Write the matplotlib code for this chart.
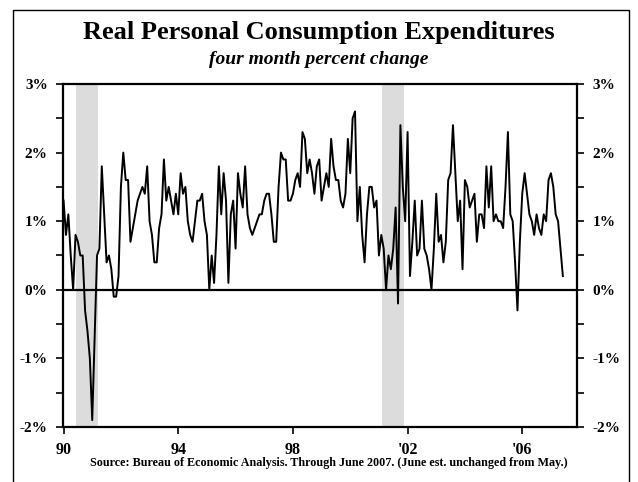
import matplotlib
matplotlib.use("Agg")
import matplotlib.pyplot as plt
import numpy as np
from matplotlib.patches import Rectangle

# Real PCE, four month percent change, monthly Jan 1990 - Jun 2007
start_year = 1990
pce_change = [
    1.3, 0.8, 1.1, 0.5, 0.0, 0.8, 0.7, 0.5, 0.5, -0.3, -0.6, -1.0,   # 1990
    -1.9, -0.7, 0.5, 0.6, 1.8, 1.1, 0.4, 0.5, 0.3, -0.1, -0.1, 0.2,  # 1991
    1.5, 2.0, 1.6, 1.6, 0.7, 0.9, 1.1, 1.3, 1.4, 1.5, 1.4, 1.8,      # 1992
    1.0, 0.8, 0.4, 0.4, 0.9, 1.1, 1.9, 1.3, 1.5, 1.3, 1.1, 1.4,      # 1993
    1.1, 1.7, 1.4, 1.5, 1.0, 0.8, 0.7, 1.0, 1.3, 1.3, 1.4, 1.0,      # 1994
    0.8, 0.0, 0.5, 0.1, 0.8, 1.8, 1.1, 1.7, 1.3, 0.1, 1.1, 1.3,      # 1995
    0.6, 1.7, 1.4, 1.2, 1.8, 1.1, 0.9, 0.8, 0.9, 1.0, 1.1, 1.1,      # 1996
    1.3, 1.4, 1.4, 1.1, 0.7, 0.7, 1.5, 2.0, 1.9, 1.9, 1.3, 1.3,      # 1997
    1.4, 1.6, 1.7, 1.5, 2.3, 2.2, 1.7, 1.9, 1.7, 1.4, 1.8, 1.9,      # 1998
    1.3, 1.5, 1.7, 1.5, 2.2, 1.8, 1.6, 1.6, 1.3, 1.2, 1.4, 2.2,      # 1999
    1.7, 2.5, 2.6, 1.0, 1.5, 0.8, 0.4, 1.1, 1.5, 1.5, 1.2, 1.3,      # 2000
    0.5, 0.8, 0.6, 0.0, 0.5, 0.3, 0.6, 1.2, -0.2, 2.4, 1.5, 1.0,     # 2001
    2.3, 0.2, 0.7, 1.3, 0.5, 0.6, 1.3, 0.6, 0.5, 0.3, 0.0, 0.6,      # 2002
    1.4, 0.7, 0.8, 0.4, 0.7, 1.6, 1.7, 2.4, 1.7, 1.0, 1.3, 0.3,      # 2003
    1.6, 1.5, 1.2, 1.3, 1.4, 0.7, 1.1, 1.1, 0.9, 1.8, 1.2, 1.8,      # 2004
    1.0, 1.1, 1.0, 1.0, 0.9, 1.5, 2.3, 1.1, 1.0, 0.4, -0.3, 0.7,     # 2005
    1.4, 1.7, 1.4, 1.1, 1.0, 0.8, 1.1, 0.9, 0.8, 1.1, 1.0, 1.6,      # 2006
    1.7, 1.5, 1.1, 1.0, 0.6, 0.2,                                    # 2007
]
recessions = [(1990.45, 1991.2), (2001.1, 2001.87)]
x_ticks = [1990, 1994, 1998, 2002, 2006]
x_tick_labels = ["90", "94", "98", "'02", "'06"]
y_ticks = [-2, -1, 0, 1, 2, 3]
y_tick_labels = ["-2%", "-1%", "0%", "1%", "2%", "3%"]

t = start_year + np.arange(len(pce_change)) / 12.0

plt.rcParams['font.family'] = ['Liberation Serif', 'DejaVu Serif']
plt.rcParams['font.weight'] = 'bold'

fig = plt.figure(figsize=(6.38, 4.82), dpi=100)
ax = fig.add_axes([63 / 638, 1 - 427 / 482, (577 - 63) / 638, (427 - 84) / 482])

for a, b in recessions:
    ax.axvspan(a, b, color='#dcdcdc', lw=0, zorder=0)
ax.axhline(0, color='black', lw=1.6, zorder=2)
ax.plot(t, pce_change, color='black', lw=1.4, zorder=3)

ax.set_xlim(1989.98, 2007.91)
ax.set_ylim(-2, 3)
ax.set_xticks(x_ticks)
ax.set_xticklabels(x_tick_labels, fontsize=11.5, fontweight='bold')
ax.set_yticks(y_ticks)
ax.set_yticklabels(y_tick_labels, fontsize=11, fontweight='bold')
ax.set_yticks(np.arange(-1.5, 3, 1.0), minor=True)
ax.tick_params(axis='y', which='both', direction='out', length=5, width=1.2,
               left=True, right=True, labelleft=True, labelright=True, pad=6)
ax.tick_params(axis='x', direction='out', length=5, width=1.2, pad=6)
for s in ax.spines.values():
    s.set_linewidth(1.6)

fig.text(0.5, 1 - 32 / 482, "Real Personal Consumption Expenditures",
         ha='center', va='center', fontsize=19, fontweight='bold')
fig.text(0.5, 1 - 60 / 482, "four month percent change",
         ha='center', va='center', fontsize=14, fontweight='bold', style='italic')
fig.text(329 / 638, 1 - 463 / 482,
         "Source: Bureau of Economic Analysis. Through June 2007. (June est. unchanged from May.)",
         ha='center', va='center', fontsize=8.7, fontweight='bold')

fig.patches.append(Rectangle((13 / 638, -0.05), (629 - 13) / 638, 1.05 - 10 / 482,
                             transform=fig.transFigure, fill=False, lw=1.0,
                             edgecolor='black'))

fig.savefig("out.png", dpi=100)
